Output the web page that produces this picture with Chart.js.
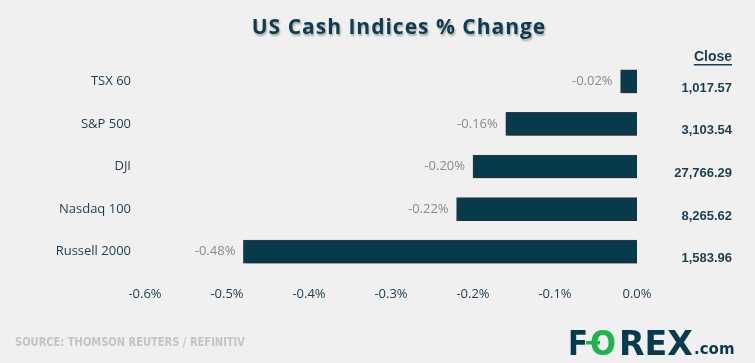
<!DOCTYPE html>
<html>
<head>
<meta charset="utf-8">
<script src="https://cdn.jsdelivr.net/npm/chart.js@4.4.1/dist/chart.umd.min.js"></script>
<style>
    html, body { margin: 0; padding: 0; background: #f0f0f0; }
    #wrap { width: 755px; height: 363px; }
</style>
</head>
<body>
<div id="wrap"><canvas id="myChart" width="755" height="363"></canvas></div>
<script>
const indices = ["TSX 60", "S&P 500", "DJI", "Nasdaq 100", "Russell 2000"]
const changes = [-0.02, -0.16, -0.20, -0.22, -0.48]
const closes = ["1,017.57", "3,103.54", "27,766.29", "8,265.62", "1,583.96"]
const xTicks = [-0.6, -0.5, -0.4, -0.3, -0.2, -0.1, 0.0]

const navy = "#073b4c"
const labelColor = "#1b3d50"

// bar shadow
const shadowPlugin = {
    id: "shadow",
    beforeDatasetsDraw(chart) {
        const ctx = chart.ctx
        ctx.save()
        ctx.shadowColor = "rgba(0,0,0,0.35)"
        ctx.shadowBlur = 4
        ctx.shadowOffsetX = 2
        ctx.shadowOffsetY = 3
    },
    afterDatasetsDraw(chart) {
        chart.ctx.restore()
    }
}

const extrasPlugin = {
    id: "extras",
    afterDraw(chart) {
        const ctx = chart.ctx
        const meta = chart.getDatasetMeta(0)
        const yScale = chart.scales.y

        // value labels left of each bar
        ctx.save()
        ctx.font = "13px 'Open Sans'"
        ctx.fillStyle = "#8a8a8a"
        ctx.textAlign = "right"
        ctx.textBaseline = "middle"
        meta.data.forEach((bar, i) => {
            ctx.fillText(changes[i].toFixed(2) + "%", bar.x - 8, bar.y)
        })

        // close column
        ctx.font = "bold 13px 'Liberation Sans'"
        ctx.fillStyle = labelColor
        closes.forEach((c, i) => {
            ctx.fillText(c, 732, yScale.getPixelForValue(i) + 7)
        })
        ctx.font = "bold 14px 'Liberation Sans'"
        ctx.fillText("Close", 732, 57)
        const w = ctx.measureText("Close").width
        ctx.fillRect(732 - w, 64, w, 1.5)

        // title
        ctx.textAlign = "center"
        ctx.font = "bold 21px 'Open Sans'"
        ctx.letterSpacing = "1px"
        ctx.shadowColor = "rgba(0,0,0,0.3)"
        ctx.shadowBlur = 2
        ctx.shadowOffsetX = 1
        ctx.shadowOffsetY = 2
        ctx.fillStyle = "#0e3b4f"
        ctx.fillText("US Cash Indices % Change", 399, 28)
        ctx.restore()

        // source
        ctx.save()
        ctx.font = "bold 12px 'DejaVu Sans Condensed', 'DejaVu Sans'"
        ctx.fillStyle = "#c4c4c4"
        ctx.textBaseline = "middle"
        ctx.fillText("SOURCE: THOMSON REUTERS / REFINITIV", 15, 343, 230)

        // logo
        ctx.font = "bold 34px 'DejaVu Sans'"
        ctx.textBaseline = "alphabetic"
        ctx.fillStyle = navy
        ctx.fillText("F", 568, 355, 20)
        ctx.fillStyle = "#23b14d"
        ctx.fillText("O", 590, 355, 26)
        ctx.fillRect(586, 341, 14, 3.5)
        ctx.fillStyle = navy
        ctx.fillText("REX", 619, 355, 74)
        ctx.font = "bold 15px 'DejaVu Sans'"
        ctx.fillText(".com", 694, 354, 48)
        ctx.restore()
    }
}

const config = {
    type: "bar",
    data: {
        labels: indices,
        datasets: [
            {
                data: changes,
                backgroundColor: navy,
                borderColor: "#353d40",
                borderWidth: 1,
                barThickness: 23
            }
        ]
    },
    options: {
        indexAxis: "y",
        responsive: false,
        animation: false,
        layout: { padding: { top: 60, right: 118, bottom: 60, left: 0 } },
        plugins: {
            legend: { display: false },
            tooltip: { enabled: false }
        },
        scales: {
            x: {
                min: xTicks[0],
                max: xTicks[xTicks.length - 1],
                afterBuildTicks(scale) {
                    scale.ticks = xTicks.map((v) => ({ value: v }))
                },
                afterFit(scale) {
                    scale.height = 30
                },
                grid: { display: false, drawTicks: false },
                border: { display: false },
                ticks: {
                    padding: 13,
                    color: labelColor,
                    font: { family: "'Open Sans'", size: 13 },
                    callback: (v) => Number(v).toFixed(1) + "%"
                }
            },
            y: {
                afterFit(scale) {
                    scale.width = 145
                },
                grid: { display: false, drawTicks: false },
                border: { display: false },
                ticks: {
                    padding: 14,
                    color: labelColor,
                    font: { family: "'Open Sans'", size: 13 }
                }
            }
        }
    },
    plugins: [shadowPlugin, extrasPlugin]
}

const chartDOM = document.getElementById("myChart")
const myChart = new Chart(chartDOM, config)
</script>
</body>
</html>
